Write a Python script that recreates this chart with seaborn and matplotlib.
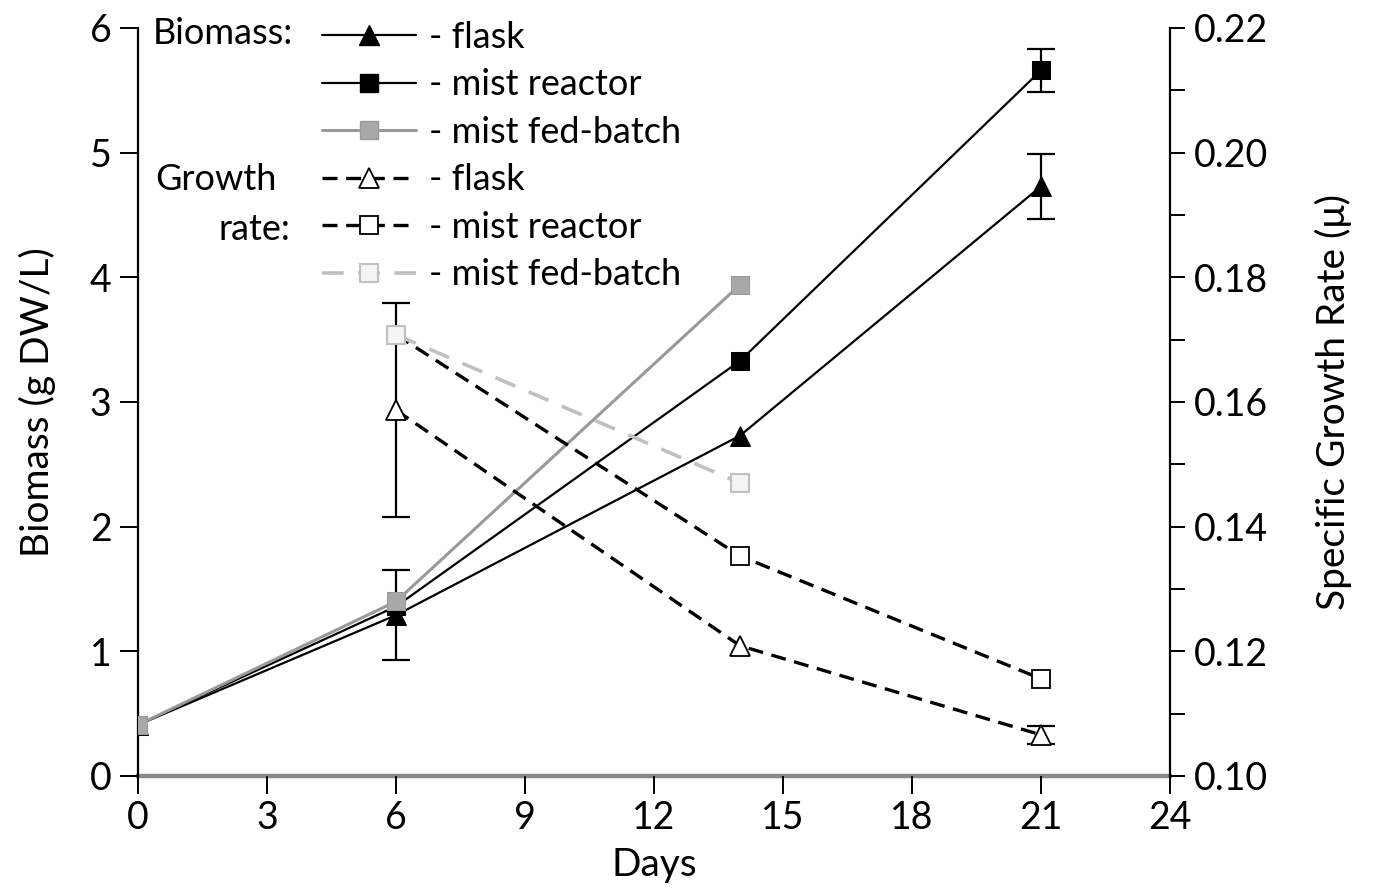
import matplotlib
matplotlib.use("Agg")
import matplotlib.pyplot as plt
import seaborn as sns
import numpy as np
import pandas as pd
from matplotlib.lines import Line2D

# ---------------- data ----------------
days = [0, 6, 14, 21]
days_fb = [0, 6, 14]
biomass_flask = [0.41, 1.29, 2.73, 4.73]
biomass_flask_err = [0.0, 0.36, 0.0, 0.26]
biomass_mist = [0.41, 1.36, 3.33, 5.66]
biomass_mist_err = [0.0, 0.0, 0.0, 0.17]
biomass_fed = [0.41, 1.40, 3.94]

rate_days = [6, 14, 21]
rate_days_fb = [6, 14]
rate_flask = [0.1587, 0.1209, 0.1066]
rate_flask_err = [0.0172, 0.0, 0.0015]
rate_mist = [0.1708, 0.1353, 0.1156]
rate_fed = [0.1708, 0.1470]

legend_labels = ["- flask", "- mist reactor", "- mist fed-batch",
                 "- flask", "- mist reactor", "- mist fed-batch"]

# ---------------- style ----------------
sns.set_style("white")
plt.rcParams['font.family'] = ['Lato', 'DejaVu Sans']
plt.rcParams['text.color'] = 'black'
plt.rcParams['axes.labelcolor'] = 'black'
plt.rcParams['xtick.color'] = 'black'
plt.rcParams['ytick.color'] = 'black'

W, H = 1374, 892
fig = plt.figure(figsize=(W / 100, H / 100), dpi=100)
L, R, B, T = 138, 1170, 776, 28
ax = fig.add_axes([L / W, 1 - B / H, (R - L) / W, (B - T) / H])
ax2 = ax.twinx()

FS = 27
black = "#000000"
gray = "#999999"
lgray = "#c0c0c0"
DASH = (0, (4.5, 2.6))
LDASH = (0, (6, 4))


def errbars(a, x, y, e):
    xs = [xi for xi, ei in zip(x, e) if ei > 0]
    ys = [yi for yi, ei in zip(y, e) if ei > 0]
    es = [ei for ei in e if ei > 0]
    a.errorbar(xs, ys, yerr=es, fmt="none", ecolor=black, elinewidth=1.6,
               capsize=10, capthick=1.6, zorder=3)


# Biomass (left axis)
sns.lineplot(x=days, y=biomass_flask, ax=ax, color=black, lw=1.6, marker="^",
             markersize=15, markerfacecolor=black, markeredgecolor=black, zorder=4)
sns.lineplot(x=days, y=biomass_mist, ax=ax, color=black, lw=1.6, marker="s",
             markersize=13, markerfacecolor=black, markeredgecolor=black, zorder=4)
sns.lineplot(x=days_fb, y=biomass_fed, ax=ax, color=gray, lw=2.2, marker="s",
             markersize=13, markerfacecolor="#a8a8a8", markeredgecolor=gray, zorder=5)
errbars(ax, days, biomass_flask, biomass_flask_err)
errbars(ax, days, biomass_mist, biomass_mist_err)

# Growth rate (right axis)
sns.lineplot(x=rate_days, y=rate_flask, ax=ax2, color=black, lw=2.4, linestyle=DASH,
             marker="^", markersize=15, markerfacecolor="white", markeredgecolor=black,
             markeredgewidth=1.3, zorder=4)
sns.lineplot(x=rate_days, y=rate_mist, ax=ax2, color=black, lw=2.4, linestyle=DASH,
             marker="s", markersize=13, markerfacecolor="white", markeredgecolor=black,
             markeredgewidth=1.3, zorder=4)
sns.lineplot(x=rate_days_fb, y=rate_fed, ax=ax2, color=lgray, lw=2.6, linestyle=LDASH,
             marker="s", markersize=13, markerfacecolor="#f4f4f4", markeredgecolor=lgray,
             markeredgewidth=1.5, zorder=5)
errbars(ax2, rate_days, rate_flask, rate_flask_err)

# ---------------- axes ----------------
ax.set_xlim(0, 24)
ax.set_ylim(0, 6)
ax2.set_ylim(0.10, 0.22)
ax.set_xticks(np.arange(0, 25, 3))
ax.set_yticks(np.arange(0, 7, 1))
ax2.set_yticks(np.arange(0.10, 0.2201, 0.02))
ax2.set_yticks(np.arange(0.11, 0.22, 0.02), minor=True)
ax2.set_yticklabels([f"{v:.2f}" for v in np.arange(0.10, 0.2201, 0.02)])

for a in (ax, ax2):
    a.spines["top"].set_visible(False)
    a.grid(False)
ax.spines["right"].set_visible(False)
ax2.spines["left"].set_visible(False)
ax2.spines["bottom"].set_visible(False)
ax.spines["left"].set_color(black)
ax.spines["left"].set_linewidth(1.6)
ax2.spines["right"].set_color(black)
ax2.spines["right"].set_linewidth(1.6)
ax.spines["bottom"].set_color("#8a8a8a")
ax.spines["bottom"].set_linewidth(3.2)
ax.spines["bottom"].set_zorder(0.5)

ax.tick_params(axis="both", which="major", direction="out", length=13, width=1.4,
               color=black, labelsize=FS, pad=6)
ax.tick_params(axis="x", pad=4)
ax.tick_params(axis="y", left=True, length=13)
ax.tick_params(axis="x", bottom=True)
ax2.tick_params(axis="y", which="both", direction="out", length=11, width=1.4,
                color=black, labelsize=FS, pad=6, right=True)

ax.set_xlabel("Days", fontsize=FS + 1, labelpad=8)
ax.set_ylabel("Biomass (g DW/L)", fontsize=FS + 1, labelpad=24)
ax2.set_ylabel("Specific Growth Rate (μ)", fontsize=FS + 1, labelpad=34)

# ---------------- legend ----------------
handles = [
    Line2D([], [], color=black, lw=1.6, marker="^", markersize=15, markerfacecolor=black),
    Line2D([], [], color=black, lw=1.6, marker="s", markersize=13, markerfacecolor=black),
    Line2D([], [], color=gray, lw=2.2, marker="s", markersize=13, markerfacecolor="#a8a8a8",
           markeredgecolor=gray),
    Line2D([], [], color=black, lw=2.4, linestyle=DASH, marker="^", markersize=15,
           markerfacecolor="white", markeredgecolor=black, markeredgewidth=1.3),
    Line2D([], [], color=black, lw=2.4, linestyle=DASH, marker="s", markersize=13,
           markerfacecolor="white", markeredgecolor=black, markeredgewidth=1.3),
    Line2D([], [], color=lgray, lw=2.6, linestyle=LDASH, marker="s", markersize=13,
           markerfacecolor="#f4f4f4", markeredgecolor=lgray, markeredgewidth=1.5),
]
leg = ax2.legend(handles, legend_labels, loc="upper left",
                 bbox_to_anchor=(322 / W, 1 - 21 / H), bbox_transform=fig.transFigure,
                 frameon=False, fontsize=FS - 1, handlelength=2.6, handletextpad=0.35,
                 labelspacing=0.40, borderpad=0, borderaxespad=0)
leg.set_zorder(10)

fig.text(153 / W, 1 - 33 / H, "Biomass:", fontsize=FS - 1, ha="left", va="center")
fig.text(155 / W, 1 - 180 / H, "Growth", fontsize=FS - 1, ha="left", va="center")
fig.text(290 / W, 1 - 230 / H, "rate:", fontsize=FS - 1, ha="right", va="center")

fig.savefig("out.png", dpi=100)
